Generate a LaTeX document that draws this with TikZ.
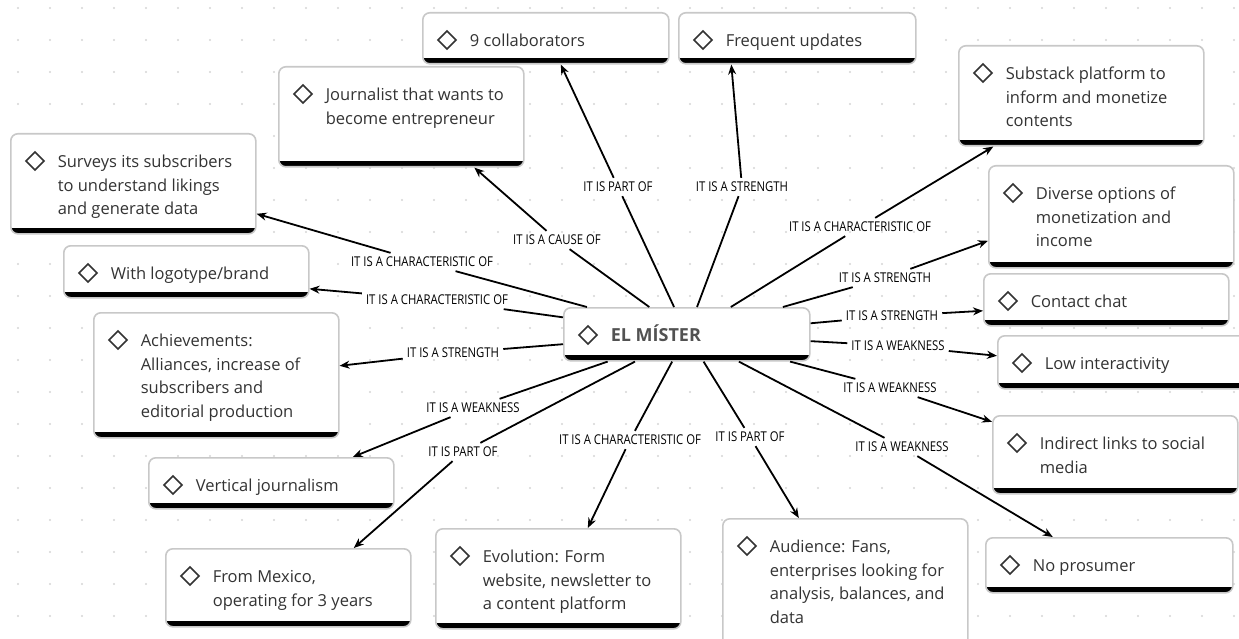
\documentclass[tikz,border=0pt]{standalone}
\usepackage{fontspec}
\usepackage{tikz}
\usetikzlibrary{arrows.meta}
\setmainfont{Open Sans}
\newfontfamily\linkfont{Open Sans}[FakeStretch=0.84]

\definecolor{boxline}{HTML}{C8C8C8}
\definecolor{ink}{HTML}{333333}
\definecolor{dotgrey}{HTML}{D6D6D6}

\tikzset{
  idea/.style 2 args={draw=boxline, line width=1.6pt, fill=white, rounded corners=7pt,
    inner sep=0pt, anchor=north west, text=ink, font=\fontsize{16.5}{23.5}\selectfont,
    path picture={\fill[black, sharp corners] ([yshift=6pt]path picture bounding box.south west) rectangle (path picture bounding box.south east);},
    execute at begin node={\begin{minipage}[c][#2][t]{#1}\raggedright\leftskip=47pt\noindent\rule{0pt}{34pt}},
    execute at end node={\end{minipage}}},
  gem/.style={draw=ink, line width=1.6pt},
  link/.style={font=\linkfont\fontsize{13.5}{14}\selectfont, inner sep=4pt},
  wire/.style={line width=1.8pt},
  arr/.style={wire, -{Stealth[length=10pt,width=8pt]}}
}

\begin{document}
\begin{tikzpicture}[x=1pt,y=-1pt]
    \clip (0,0) rectangle (1239,639);
    \fill[white] (0,0) rectangle (1239,639);
    % 背景点阵
    \foreach \x in {18,50,...,1239}
        \foreach \y in {8,40,...,639}
            \fill[dotgrey] (\x,\y) circle (1.2pt);

    % 概念框
    \node[idea={246pt}{51pt}] (colab) at (422,12) {9 collaborators};
    \node[idea={237pt}{51pt}] (freq) at (678,12) {Frequent updates};
    \node[idea={245pt}{100pt}] (journ) at (278,66) {Journalist that wants to\\become entrepreneur};
    \node[idea={245pt}{100pt}] (surv) at (10,133) {Surveys its subscribers\\to understand likings\\and generate data};
    \node[idea={245pt}{52pt}] (logo) at (63,245) {With logotype/brand};
    \node[idea={245pt}{125pt}] (achv) at (93,312) {Achievements:\\Alliances, increase of\\subscribers and\\editorial production};
    \node[idea={245pt}{100pt}] (subs) at (958,45) {Substack platform to\\inform and monetize\\contents};
    \node[idea={245pt}{102pt}] (dive) at (988,165) {Diverse options of\\monetization and\\income};
    \node[idea={245pt}{52pt}] (cont) at (983,273) {Contact chat};
    \node[idea={255pt}{53pt}] (low) at (997,335) {Low interactivity};
    \node[idea={245pt}{78pt}] (indi) at (992,415) {Indirect links to social\\media};
    \node[idea={247pt}{55pt}] (noprs) at (985,537) {No prosumer};
    \node[idea={245pt}{130pt}] (aud) at (722,518) {Audience: Fans,\\enterprises looking for\\analysis, balances, and\\data};
    \node[idea={245pt}{100pt}] (evol) at (435,528) {Evolution: Form\\website, newsletter to\\a content platform};
    \node[idea={245pt}{51pt}] (vert) at (148,457) {Vertical journalism};
    \node[idea={245pt}{78pt}] (mex) at (165,548) {From Mexico,\\operating for 3 years};

    % 中心节点
    \node[idea={246pt}{53pt}, font=\bfseries\fontsize{18}{20}\selectfont, text=ink!85] (hub) at (563,307) {EL MÍSTER};

    % 菱形图标
    \foreach \b in {colab,freq,journ,surv,logo,achv,subs,dive,cont,low,indi,noprs,aud,evol,vert,mex,hub}
        \draw[gem] ([xshift=16pt,yshift=-28pt]\b.north west) -- ++(9,-9) -- ++(9,9) -- ++(-9,9) -- cycle;

    % 连接词
    \node[link] (l-colab) at (618,187) {IT IS PART OF};
    \node[link] (l-freq) at (742,187) {IT IS A STRENGTH};
    \node[link] (l-journ) at (557,240) {IT IS A CAUSE OF};
    \node[link] (l-surv) at (422,262) {IT IS A CHARACTERISTIC OF};
    \node[link] (l-logo) at (437,300) {IT IS A CHARACTERISTIC OF};
    \node[link] (l-achv) at (453,353) {IT IS A STRENGTH};
    \node[link] (l-subs) at (860,227) {IT IS A CHARACTERISTIC OF};
    \node[link] (l-dive) at (885,278) {IT IS A STRENGTH};
    \node[link] (l-cont) at (892,316) {IT IS A STRENGTH};
    \node[link] (l-low) at (898,346) {IT IS A WEAKNESS};
    \node[link] (l-indi) at (890,388) {IT IS A WEAKNESS};
    \node[link] (l-noprs) at (902,447) {IT IS A WEAKNESS};
    \node[link] (l-aud) at (750,437) {IT IS PART OF};
    \node[link] (l-evol) at (630,440) {IT IS A CHARACTERISTIC OF};
    \node[link] (l-mex) at (463,452) {IT IS PART OF};
    \node[link] (l-vert) at (473,408) {IT IS A WEAKNESS};

    % 连线
    \draw[wire] (hub) -- (l-colab);
    \draw[arr] (l-colab) -- ([xshift=15pt]colab.south);
    \draw[wire] (hub) -- (l-freq);
    \draw[arr] (l-freq) -- ([xshift=-66pt]freq.south);
    \draw[wire] (hub) -- (l-journ);
    \draw[arr] (l-journ) -- ([xshift=73pt]journ.south);
    \draw[wire] (hub) -- (l-surv);
    \draw[arr] (l-surv) -- ([yshift=-30pt]surv.east);
    \draw[wire] (hub) -- (l-logo);
    \draw[arr] (l-logo) -- ([yshift=-17pt]logo.east);
    \draw[wire] (hub) -- (l-achv);
    \draw[arr] (l-achv) -- ([yshift=9.5pt]achv.east);
    \draw[wire] (hub) -- (l-subs);
    \draw[arr] (l-subs) -- ([xshift=-88pt]subs.south);
    \draw[wire] (hub) -- (l-dive);
    \draw[arr] (l-dive) -- ([yshift=-24pt]dive.west);
    \draw[wire] (hub) -- (l-cont);
    \draw[arr] (l-cont) -- ([yshift=-11pt]cont.west);
    \draw[wire] (hub) -- (l-low);
    \draw[arr] (l-low) -- ([yshift=6.5pt]low.west);
    \draw[wire] (hub) -- (l-indi);
    \draw[arr] (l-indi) -- ([yshift=33pt]indi.west);
    \draw[wire] (hub) -- (l-noprs);
    \draw[arr] (l-noprs) -- ([xshift=-56.5pt]noprs.north);
    \draw[wire] (hub) -- (l-aud);
    \draw[arr] (l-aud) -- ([xshift=-46.5pt]aud.north);
    \draw[wire] (hub) -- (l-evol);
    \draw[arr] (l-evol) -- ([xshift=29.5pt]evol.north);
    \draw[wire] (hub) -- (l-mex);
    \draw[arr] (l-mex) -- ([xshift=65.5pt]mex.north);
    \draw[wire] (hub) -- (l-vert);
    \draw[arr] (l-vert) -- ([xshift=81.5pt]vert.north);
\end{tikzpicture}
\end{document}
